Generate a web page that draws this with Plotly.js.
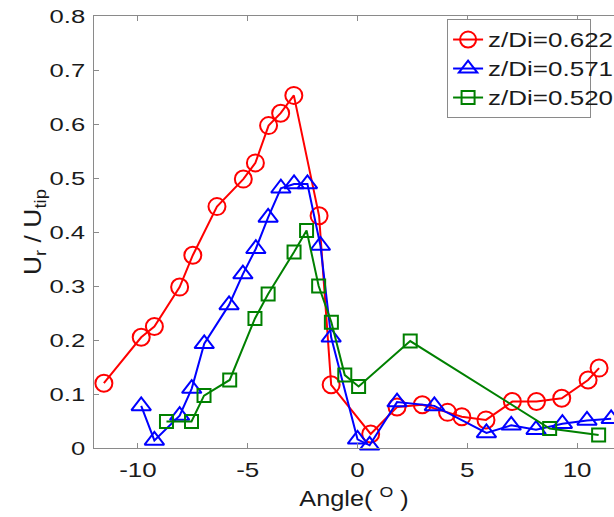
<!DOCTYPE html>
<html>
<head>
<meta charset="utf-8">
<script src="https://cdn.plot.ly/plotly-3.0.1.min.js"></script>
<style>
html,body{margin:0;padding:0;background:#fff;overflow:hidden;}
#chart{width:614px;height:517px;}
</style>
</head>
<body>
<div id="chart"></div>
<script>
// Series names
const seriesNames = ["z/Di=0.622", "z/Di=0.571", "z/Di=0.520"];

// z/Di = 0.622 (red circles)
const angle622 = [-11.55, -9.85, -9.25, -8.1, -7.5, -6.4, -5.2, -4.65, -4.05, -3.5, -2.9, -1.75, -1.2, 0.6, 1.8, 2.95, 4.1, 4.75, 5.85, 7.05, 8.15, 9.3, 10.5, 11.0];
const ur622 = [0.12, 0.205, 0.225, 0.298, 0.357, 0.447, 0.498, 0.528, 0.597, 0.620, 0.653, 0.430, 0.117, 0.026, 0.076, 0.080, 0.066, 0.058, 0.052, 0.086, 0.086, 0.092, 0.126, 0.148];

// z/Di = 0.571 (blue triangles)
const angle571 = [-9.85, -9.25, -8.1, -7.55, -6.98, -5.85, -5.22, -4.63, -4.07, -3.49, -2.89, -2.28, -1.69, -1.2, 0.0, 0.55, 1.8, 3.5, 5.87, 7.0, 8.13, 9.33, 10.45, 11.55];
const ur571 = [0.078, 0.014, 0.060, 0.110, 0.193, 0.265, 0.322, 0.369, 0.427, 0.481, 0.489, 0.489, 0.375, 0.205, 0.016, 0.005, 0.085, 0.078, 0.028, 0.042, 0.034, 0.045, 0.051, 0.054];

// z/Di = 0.520 (green squares)
const angle520 = [-8.7, -7.56, -6.99, -5.82, -4.67, -4.07, -2.89, -2.32, -1.77, -1.19, -0.58, 0.05, 2.4, 8.75, 10.98];
const ur520 = [0.049, 0.049, 0.097, 0.126, 0.240, 0.285, 0.363, 0.403, 0.300, 0.233, 0.135, 0.114, 0.198, 0.036, 0.024];

// Tick values
const xTicks = [-10, -5, 0, 5, 10];
const yTicks = [0, 0.1, 0.2, 0.3, 0.4, 0.5, 0.6, 0.7, 0.8];
const yTickText = ["0", "0.1", "0.2", "0.3", "0.4", "0.5", "0.6", "0.7", "0.8"];

const FONT = "Liberation Sans, Arial, sans-serif";
const INK = "#1a1a1a";

function trace(x, y, name, color, symbol, size) {
  return {
    x: x, y: y, name: name, type: "scatter", mode: "lines+markers",
    line: {color: color, width: 2},
    marker: {symbol: symbol, size: size, color: color, line: {color: color, width: 2}},
    cliponaxis: false
  };
}

const data = [
  trace(angle622, ur622, seriesNames[0], "#ff0000", "circle-open", 17),
  trace(angle571, ur571, seriesNames[1], "#0000ff", "triangle-up-open", 17),
  trace(angle520, ur520, seriesNames[2], "#008000", "square-open", 13)
];

const layout = {
  width: 614, height: 517,
  margin: {l: 94, r: 0, t: 16, b: 69, pad: 0},
  paper_bgcolor: "#ffffff", plot_bgcolor: "#ffffff",
  font: {family: FONT, size: 20, color: INK},
  showlegend: true,
  legend: {
    x: 0.679, y: 0.993, xanchor: "left", yanchor: "top",
    bgcolor: "#ffffff", bordercolor: "#8a8a8a", borderwidth: 1,
    font: {family: FONT, size: 20, color: INK},
    itemwidth: 30, tracegroupgap: 0, entrywidth: 170, entrywidthmode: "pixels"
  },
  xaxis: {
    range: [-12, 11.68], autorange: false,
    tickvals: xTicks, ticktext: xTicks.map(String),
    ticks: "inside", ticklen: 5, tickwidth: 1, tickcolor: "#8a8a8a",
    showline: true, linecolor: "#8a8a8a", linewidth: 1, mirror: "ticks",
    showgrid: false, zeroline: false,
    tickfont: {family: FONT, size: 20, color: INK},
    ticklabelstandoff: 4,
    title: {text: "Angle( <sup>O</sup> )", font: {family: FONT, size: 22, color: INK}, standoff: 10}
  },
  yaxis: {
    range: [0, 0.8], autorange: false,
    tickvals: yTicks, ticktext: yTickText,
    ticks: "inside", ticklen: 5, tickwidth: 1, tickcolor: "#8a8a8a",
    showline: true, linecolor: "#8a8a8a", linewidth: 1, mirror: false,
    showgrid: false, zeroline: false,
    tickfont: {family: FONT, size: 19, color: INK},
    ticklabelstandoff: 4,
    title: {text: "U<sub>r</sub> / U<sub>tip</sub>", font: {family: FONT, size: 23, color: INK}, standoff: 10}
  }
};

// Widen text horizontally (the reference type is set wide), keeping each text's anchor fixed.
function widenTexts(gd) {
  const rules = [
    {sel: ".xtick text", s: 1.3},
    {sel: ".ytick text", s: 1.35},
    {sel: ".legendtext", s: 1.3},
    {sel: ".g-xtitle text", s: 1.15},
    {sel: ".g-ytitle text", s: 1.15}
  ];
  rules.forEach(function (r) {
    gd.querySelectorAll(r.sel).forEach(function (el) {
      let bb;
      try { bb = el.getBBox(); } catch (e) { return; }
      if (!bb || bb.width === 0) return;
      const anchor = el.getAttribute("text-anchor") || "start";
      let ax = bb.x;
      if (anchor === "end") ax = bb.x + bb.width;
      else if (anchor === "middle") ax = bb.x + bb.width / 2;
      const prev = el.getAttribute("transform") || "";
      el.setAttribute("transform", prev + " translate(" + ax + ",0) scale(" + r.s + ",1) translate(" + (-ax) + ",0)");
    });
  });
  // let the widened legend labels run past the legend's clip box, as in the reference
  gd.querySelectorAll(".legend [clip-path], .legend .scrollbox").forEach(function (el) {
    el.removeAttribute("clip-path");
  });
}

const gd = document.getElementById("chart");
Plotly.newPlot(gd, data, layout, {displayModeBar: false, staticPlot: true}).then(function () {
  widenTexts(gd);
});
</script>
</body>
</html>
